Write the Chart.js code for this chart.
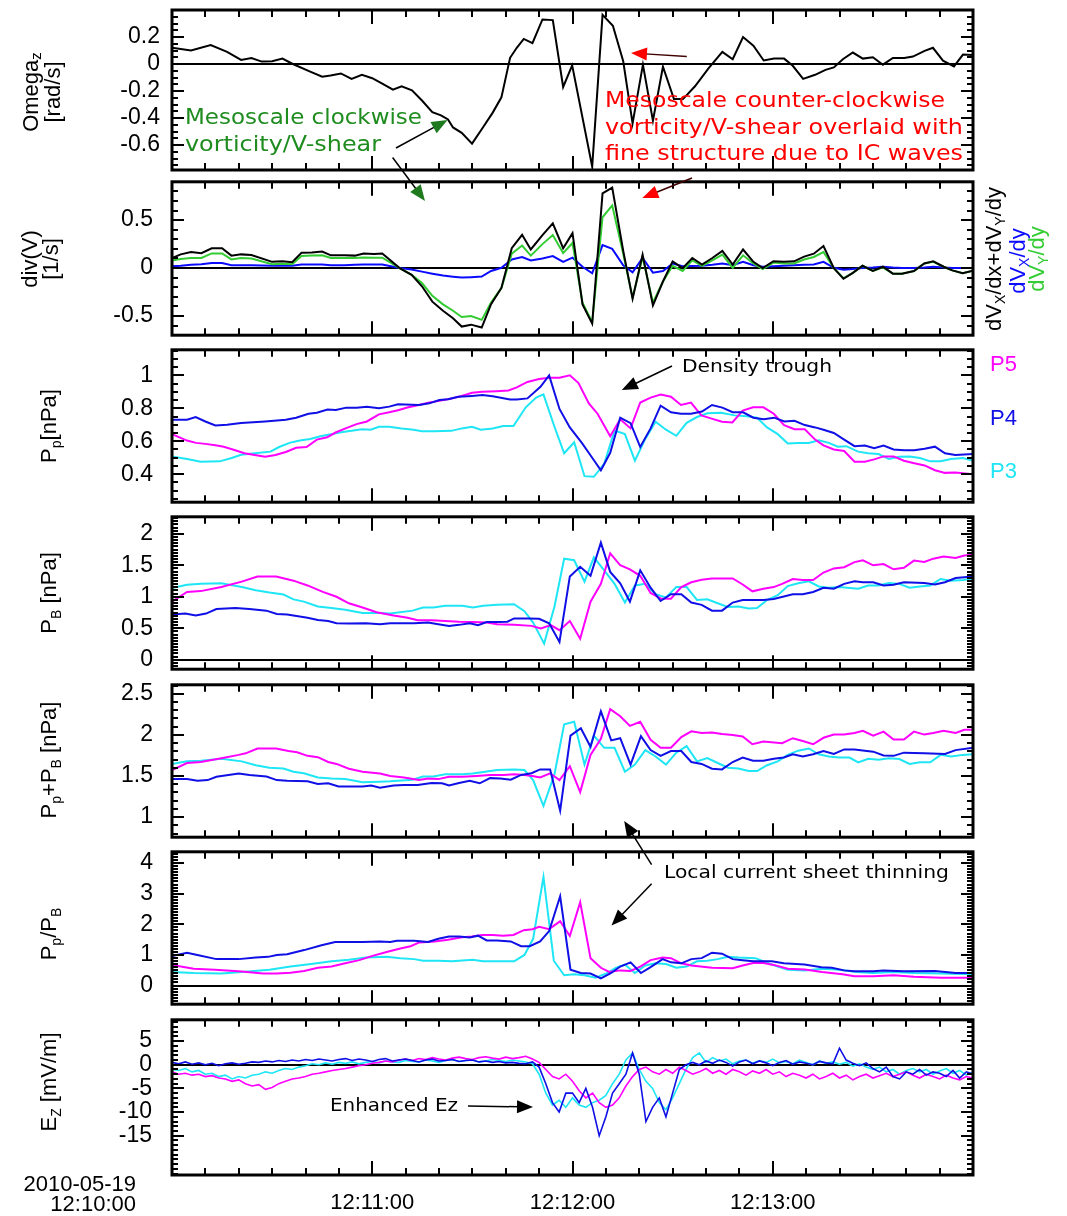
<!DOCTYPE html>
<html>
<head>
<meta charset="utf-8">
<script src="https://cdn.jsdelivr.net/npm/chart.js@4.4.0/dist/chart.umd.min.js"></script>
<style>
  html, body { margin: 0; padding: 0; background: #fff; }
  #stack { position: relative; width: 1067px; height: 1216px; overflow: hidden; }
  #notes { position: absolute; left: 0; top: 0; pointer-events: none; }
  .ax { font-family: 'Liberation Sans', Arial, sans-serif; font-size: 22px; fill: #000; }
  .ann { font-family: 'DejaVu Sans', Verdana, sans-serif; }
</style>
</head>
<body>
<div id="stack">
<svg id="notes" width="1067" height="1216" xmlns="http://www.w3.org/2000/svg">
  <!-- y-axis titles -->
  <text class="ax" transform="translate(38,92) rotate(-90)" text-anchor="middle">Omega<tspan font-size="15" dy="3">z</tspan></text>
  <text class="ax" transform="translate(60,92) rotate(-90)" text-anchor="middle">[rad/s]</text>
  <text class="ax" transform="translate(37,259) rotate(-90)" text-anchor="middle">div(V)</text>
  <text class="ax" transform="translate(58,259) rotate(-90)" text-anchor="middle">[1/s]</text>
  <text class="ax" transform="translate(56,426) rotate(-90)" text-anchor="middle">P<tspan font-size="14" dy="5">p</tspan><tspan dy="-5">[nPa]</tspan></text>
  <text class="ax" transform="translate(56,593) rotate(-90)" text-anchor="middle">P<tspan font-size="14" dy="5">B</tspan><tspan dy="-5"> [nPa]</tspan></text>
  <text class="ax" transform="translate(56,760) rotate(-90)" text-anchor="middle">P<tspan font-size="14" dy="5">p</tspan><tspan dy="-5">+P</tspan><tspan font-size="14" dy="5">B</tspan><tspan dy="-5"> [nPa]</tspan></text>
  <text class="ax" transform="translate(56,934) rotate(-90)" text-anchor="middle">P<tspan font-size="14" dy="5">p</tspan><tspan dy="-5">/P</tspan><tspan font-size="14" dy="5">B</tspan></text>
  <text class="ax" transform="translate(56,1082) rotate(-90)" text-anchor="middle">E<tspan font-size="14" dy="5">Z</tspan><tspan dy="-5"> [mV/m]</tspan></text>

  <!-- divergence legend -->
  <text class="ax" font-size="21" transform="translate(1001,259) rotate(-90)" text-anchor="middle">dV<tspan font-size="14" dy="4">X</tspan><tspan dy="-4">/dx+dV</tspan><tspan font-size="14" dy="4">Y</tspan><tspan dy="-4">/dy</tspan></text>
  <text class="ax" font-size="21" style="fill:#0a0aff" transform="translate(1025,261) rotate(-90)" text-anchor="middle">dV<tspan font-size="14" dy="4">X</tspan><tspan dy="-4">/dy</tspan></text>
  <text class="ax" font-size="21" style="fill:#33cc33" transform="translate(1044,259) rotate(-90)" text-anchor="middle">dV<tspan font-size="14" dy="4">Y</tspan><tspan dy="-4">/dy</tspan></text>

  <!-- probe legend -->
  <text class="ax" x="990" y="371" style="fill:#ff00ff">P5</text>
  <text class="ax" x="990" y="425" style="fill:#0f0fe6">P4</text>
  <text class="ax" x="990" y="478" style="fill:#1ee6f5">P3</text>

  <!-- date stamp of the time axis origin -->
  <text class="ax" x="136" y="1191" text-anchor="end">2010-05-19</text>
  <text class="ax" x="136" y="1211" text-anchor="end">12:10:00</text>

  <!-- annotations -->
  <text class="ann" x="185" y="124" font-size="21" fill="#1f8c1f" textLength="237" lengthAdjust="spacingAndGlyphs">Mesoscale clockwise</text>
  <text class="ann" x="185" y="151" font-size="21" fill="#1f8c1f" textLength="196" lengthAdjust="spacingAndGlyphs">vorticity/V-shear</text>
  <text class="ann" x="605" y="107" font-size="21" fill="#ff0000" textLength="340" lengthAdjust="spacingAndGlyphs">Mesoscale counter-clockwise</text>
  <text class="ann" x="605" y="134" font-size="21" fill="#ff0000" textLength="358" lengthAdjust="spacingAndGlyphs">vorticity/V-shear overlaid with</text>
  <text class="ann" x="605" y="160" font-size="21" fill="#ff0000" textLength="358" lengthAdjust="spacingAndGlyphs">fine structure due to IC waves</text>
  <text class="ann" x="682" y="372" font-size="18.5" fill="#000" textLength="150" lengthAdjust="spacingAndGlyphs">Density trough</text>
  <text class="ann" x="664" y="878" font-size="18.5" fill="#000" textLength="285" lengthAdjust="spacingAndGlyphs">Local current sheet thinning</text>
  <text class="ann" x="330" y="1111" font-size="18.5" fill="#000" textLength="128" lengthAdjust="spacingAndGlyphs">Enhanced Ez</text>
  <g id="arrows"></g>
</svg>
</div>

<script>
// ---------------- time axis (seconds after 12:10:00) ----------------
const timeTickSecs = [60, 120, 180];
const timeTickLabels = ['12:11:00', '12:12:00', '12:13:00'];

// ---------------- Omega_z ----------------
const omegaT = [0, 5.7, 11.6, 16.5, 20.7, 23.8, 26.9, 30, 33.1, 36.2,
  41.4, 45, 47.5, 50.6, 53.8, 56.9, 60, 63, 66.2, 68.8,
  71.9, 74.9, 78, 80.6, 82.7, 84.2, 86.8, 89.9, 93, 96.1,
  98.7, 101.3, 103.3, 105.4, 108, 111, 114.1, 117.2, 119.9, 125.9,
  129, 132.1, 135.2, 138, 141.1, 144.1, 147.1, 150.4, 153.1, 156.7,
  160.8, 164.9, 168, 171.1, 174.2, 177.3, 180.4, 183.4, 186, 189.1,
  192.7, 195.8, 198.3, 201, 204, 207, 210, 213, 216, 219.4,
  222, 225.5, 228, 231, 234.3, 237, 240];
const omegaZ = [0.12, 0.10, 0.14, 0.09, 0.03, 0.045, 0.018, 0.02, 0.04, 0.0,
  -0.056, -0.094, -0.085, -0.07, -0.11, -0.08, -0.105, -0.145, -0.19, -0.165,
  -0.195, -0.27, -0.356, -0.38, -0.41, -0.47, -0.51, -0.59, -0.476, -0.36,
  -0.247, 0.046, 0.12, 0.186, 0.155, 0.33, 0.325, -0.17, -0.01, -0.76,
  0.364, 0.283, 0.02, -0.44, -0.005, -0.42, -0.02, -0.26, -0.26, -0.165,
  -0.03, 0.09, 0.035, 0.2, 0.135, 0.026, 0.04, 0.04, -0.013, -0.11,
  -0.08, -0.043, -0.025, 0.035, 0.085, 0.04, 0.05, -0.005, 0.045, 0.045,
  0.055, 0.097, 0.12, 0.025, -0.018, 0.07, 0.066];
const omegaTicks = [-0.6, -0.4, -0.2, 0, 0.2];
const omegaTickLabels = ['-0.6', '-0.4', '-0.2', '0', '0.2'];

// ---------------- div(V) ----------------
const divT = [0, 2.6, 5.7, 8.8, 11.9, 15, 17.8, 20.7, 23.8, 30,
  33.1, 36, 38.8, 41.9, 45, 47.6, 51.7, 54.8, 57.4, 60.5,
  63, 68.2, 71.8, 74.9, 78, 81.2, 84.2, 86.8, 89.6, 92.8,
  95.6, 98.7, 101.8, 104.9, 107.5, 111, 114.1, 117.2, 120, 123,
  125.9, 129, 131.9, 135.2, 138, 141, 144.1, 147.1, 150, 153,
  155.9, 158.8, 161.9, 164.9, 168, 171.1, 174.2, 177, 180.2, 183.3,
  186.4, 189.4, 192.3, 195.2, 198.3, 201.2, 204, 206.9, 210, 213,
  216, 218.7, 222.3, 225.4, 228.1, 231.2, 233.8, 236.9, 240];
const divSum = [0.105, 0.143, 0.167, 0.156, 0.207, 0.207, 0.13, 0.143, 0.136, 0.065,
  0.071, 0.061, 0.16, 0.163, 0.173, 0.133, 0.133, 0.13, 0.153, 0.146,
  0.153, 0.0, -0.071, -0.19, -0.35, -0.445, -0.524, -0.61, -0.59, -0.62,
  -0.377, -0.207, 0.207, 0.347, 0.194, 0.344, 0.466, 0.207, 0.364, -0.378,
  -0.58, 0.78, 0.84, 0.18, -0.32, 0.14, -0.39, -0.14, 0.07, 0.0,
  0.105, 0.037, 0.105, 0.18, 0.037, 0.194, 0.065, 0.0, 0.071, 0.065,
  0.071, 0.12, 0.15, 0.23, 0.0, -0.112, -0.05, 0.024, -0.03, 0.014,
  -0.058, -0.058, -0.03, 0.048, 0.071, 0.014, -0.024, -0.054, -0.027];
const divVy = [0.08, 0.095, 0.105, 0.105, 0.153, 0.153, 0.09, 0.105, 0.1, 0.04,
  0.045, 0.04, 0.126, 0.13, 0.133, 0.105, 0.105, 0.105, 0.11, 0.109,
  0.109, 0.0, -0.07, -0.156, -0.29, -0.378, -0.445, -0.51, -0.5, -0.54,
  -0.36, -0.207, 0.15, 0.235, 0.13, 0.25, 0.344, 0.156, 0.262, -0.36,
  -0.565, 0.53, 0.653, 0.15, -0.31, 0.116, -0.36, -0.14, 0.024, -0.03,
  0.08, 0.024, 0.08, 0.14, 0.003, 0.133, 0.048, -0.01, 0.058, 0.048,
  0.048, 0.09, 0.116, 0.167, 0.0, -0.105, -0.05, 0.024, -0.03, 0.007,
  -0.058, -0.058, -0.03, 0.048, 0.065, 0.014, -0.024, -0.054, -0.027];
const divVx = [0.02, 0.025, 0.034, 0.04, 0.054, 0.054, 0.03, 0.03, 0.03, 0.024,
  0.024, 0.024, 0.037, 0.037, 0.037, 0.03, 0.03, 0.035, 0.037, 0.037,
  0.037, 0.0, -0.015, -0.037, -0.058, -0.078, -0.09, -0.099, -0.095, -0.088,
  -0.03, 0.003, 0.09, 0.116, 0.08, 0.1, 0.126, 0.065, 0.109, 0.014,
  -0.054, 0.24, 0.2, 0.03, -0.044, 0.105, -0.048, -0.03, 0.048, 0.02,
  0.022, 0.024, 0.035, 0.048, 0.03, 0.065, 0.03, 0.014, 0.02, 0.024,
  0.03, 0.035, 0.037, 0.065, 0.003, -0.017, -0.01, 0.0, 0.005, 0.014,
  0.005, 0.0, 0.0, 0.005, 0.014, 0.005, 0.0, 0.0, 0.0];
const divTicks = [-0.5, 0, 0.5];
const divTickLabels = ['-0.5', '0', '0.5'];

// ---------------- P_p (plasma pressure) ----------------
const ppT5 = [0, 4.5, 7.2, 10, 13, 15.5, 18.7, 21.7, 24.8, 27.9,
  31, 34.1, 37.2, 40.3, 43.4, 46.5, 49, 52.2, 55.3, 58.4,
  62, 65.1, 67.7, 70.8, 74, 77.1, 80.1, 83.7, 86.8, 89.9,
  93, 97.2, 100.8, 103.3, 106.5, 110, 113, 116.1, 119.2, 121.8,
  124.9, 127.5, 131.3, 134.3, 137.4, 140.3, 143.4, 146.4, 149.5, 152.5,
  155.5, 158.6, 161.7, 164.8, 167.9, 171, 174.1, 177.2, 180.3, 183.4,
  186.5, 189.6, 192.7, 195.2, 198.3, 201.4, 204.5, 207.6, 210.4, 213.2,
  216.2, 219.3, 222.4, 225.5, 228.6, 231.6, 234.7, 240];
const ppP5 = [0.643, 0.604, 0.59, 0.584, 0.575, 0.567, 0.547, 0.527, 0.516, 0.506,
  0.516, 0.535, 0.56, 0.565, 0.61, 0.624, 0.653, 0.68, 0.704, 0.72,
  0.763, 0.776, 0.788, 0.806, 0.82, 0.835, 0.845, 0.86, 0.875, 0.894,
  0.9, 0.904, 0.908, 0.927, 0.96, 0.978, 0.986, 0.986, 1.0, 0.953,
  0.829, 0.767, 0.63, 0.733, 0.678, 0.835, 0.865, 0.884, 0.87, 0.82,
  0.835, 0.757, 0.737, 0.718, 0.714, 0.786, 0.806, 0.806, 0.767, 0.698,
  0.673, 0.673, 0.61, 0.575, 0.55, 0.541, 0.476, 0.476, 0.49, 0.508,
  0.508, 0.482, 0.467, 0.453, 0.424, 0.408, 0.41, 0.4];
const ppT4 = [0, 4.5, 7.1, 10, 13, 16.5, 20.7, 27.9, 34.1, 37.2,
  40.9, 43.4, 46.6, 49.1, 52.2, 55.3, 58.4, 62, 65.1, 67.7,
  74, 77.1, 80.1, 82.7, 85.8, 89.9, 93, 96.1, 101.3, 103.3,
  106.5, 110.4, 113, 116.1, 119.2, 122.8, 125.9, 128.5, 131.3, 134.3,
  137.4, 140.3, 143.4, 146.4, 149.5, 152.5, 155.5, 158.8, 161.8, 164.9,
  168, 171.1, 174.2, 177.3, 180.4, 183.5, 186.5, 189.6, 192.7, 195.2,
  198.3, 201.4, 204.5, 207.6, 210.4, 213.2, 216.2, 219.3, 222.4, 225.5,
  228.6, 231.6, 234.7, 240];
const ppP4 = [0.731, 0.731, 0.747, 0.72, 0.696, 0.70, 0.71, 0.72, 0.73, 0.743,
  0.767, 0.773, 0.792, 0.79, 0.804, 0.804, 0.81, 0.80, 0.81, 0.825,
  0.82, 0.83, 0.85, 0.855, 0.87, 0.875, 0.88, 0.873, 0.853, 0.853,
  0.86, 0.93, 1.0, 0.796, 0.684, 0.59, 0.50, 0.424, 0.53, 0.743,
  0.71, 0.565, 0.678, 0.816, 0.776, 0.767, 0.767, 0.78, 0.82, 0.804,
  0.776, 0.776, 0.743, 0.733, 0.743, 0.72, 0.724, 0.698, 0.684, 0.67,
  0.65, 0.61, 0.57, 0.574, 0.557, 0.574, 0.55, 0.545, 0.545, 0.555,
  0.567, 0.527, 0.516, 0.522];
const ppT3 = [0, 4.5, 8.6, 14.3, 17.9, 20.7, 24.8, 29.5, 32.1, 35.2,
  38.3, 41.4, 44.5, 47.6, 50.7, 53.8, 56.9, 59.5, 62, 65.1,
  68.8, 72.4, 74.9, 78.6, 83.7, 86.8, 89.9, 92.5, 96.1, 99.2,
  102.3, 106, 109.1, 111.3, 114.6, 117.5, 120.5, 123.6, 126.4, 129.5,
  132.6, 135.7, 138.7, 141.8, 144.9, 148, 151.1, 154.2, 157.3, 160.4,
  164.5, 168.6, 172.2, 175.3, 178.3, 181.5, 184.5, 187.6, 190.8, 193.8,
  196.8, 199.5, 202, 205.6, 208.6, 211.7, 214.8, 217.9, 221, 224.1,
  227.2, 230.3, 233.4, 237, 240];
const ppP3 = [0.508, 0.492, 0.476, 0.478, 0.498, 0.518, 0.527, 0.537, 0.565, 0.59,
  0.604, 0.614, 0.63, 0.643, 0.655, 0.663, 0.673, 0.67, 0.688, 0.688,
  0.678, 0.67, 0.66, 0.66, 0.663, 0.678, 0.688, 0.67, 0.678, 0.692,
  0.692, 0.806, 0.865, 0.884, 0.688, 0.527, 0.594, 0.388, 0.384, 0.463,
  0.665, 0.643, 0.482, 0.614, 0.718, 0.67, 0.633, 0.712, 0.747, 0.77,
  0.773, 0.757, 0.751, 0.743, 0.684, 0.643, 0.586, 0.59, 0.59, 0.606,
  0.59, 0.567, 0.57, 0.537, 0.527, 0.522, 0.492, 0.506, 0.508, 0.498,
  0.478, 0.478, 0.492, 0.498, 0.482];
const ppTicks = [0.4, 0.6, 0.8, 1];
const ppTickLabels = ['0.4', '0.6', '0.8', '1'];

// ---------------- P_B (magnetic pressure) ----------------
const pbT5 = [0, 4.5, 8.6, 14.8, 20.9, 25.6, 31.2, 36.4, 40.6, 45.2,
  49.3, 53, 57.1, 61.3, 66.4, 70.6, 73.6, 77.8, 81.9, 86,
  90.1, 94.3, 97.4, 102.5, 107.7, 110.5, 113.5, 116.1, 119.2, 122.3,
  125.4, 128.5, 131.3, 134.3, 137.2, 140.3, 143.4, 146.4, 149.5, 152.6,
  155.6, 158.7, 161.8, 168, 171, 173.9, 177.2, 180.3, 182.8, 186,
  189, 192.1, 195.2, 198.3, 201.4, 204.5, 207, 210.1, 213.2, 216.2,
  219.3, 222.3, 225.4, 228.1, 231.2, 234.8, 237.4, 240];
const pbP5 = [0.923, 1.077, 1.09, 1.154, 1.24, 1.323, 1.323, 1.256, 1.18, 1.077,
  1.0, 0.897, 0.83, 0.754, 0.703, 0.667, 0.626, 0.626, 0.615, 0.605,
  0.6, 0.59, 0.564, 0.554, 0.538, 0.497, 0.55, 0.47, 0.615, 0.333,
  0.923, 1.205, 1.69, 1.5, 1.436, 1.333, 1.06, 0.974, 0.97, 1.154,
  1.23, 1.27, 1.29, 1.29, 1.195, 1.087, 1.128, 1.154, 1.205, 1.282,
  1.267, 1.267, 1.385, 1.45, 1.47, 1.55, 1.58, 1.5, 1.52, 1.436,
  1.46, 1.574, 1.554, 1.605, 1.64, 1.615, 1.656, 1.667];
const pbT4 = [0, 4, 7.1, 10.2, 13.3, 19, 23.2, 28.3, 31.4, 34.5,
  40.6, 43.7, 46.8, 49.3, 53, 58.1, 62.3, 65.4, 72.6, 76.7,
  79.8, 83, 86, 89.2, 91.7, 94.3, 97.4, 100.5, 102.5, 106.7,
  110, 113, 116.1, 119.2, 122.3, 125.4, 128.5, 131.3, 134.3, 137.2,
  140.3, 143.4, 146.4, 149.5, 152.6, 155.6, 158.7, 161.8, 164.8, 168,
  171, 177.2, 180.3, 186, 189, 192.1, 195.2, 198.3, 201.4, 204.5,
  207, 210.1, 213.2, 216.2, 219.3, 225.4, 228.6, 231.6, 234.8, 240];
const pbP4 = [0.718, 0.733, 0.703, 0.733, 0.805, 0.82, 0.805, 0.78, 0.728, 0.718,
  0.667, 0.63, 0.615, 0.58, 0.574, 0.58, 0.564, 0.58, 0.58, 0.59,
  0.564, 0.538, 0.554, 0.58, 0.55, 0.6, 0.6, 0.605, 0.656, 0.656,
  0.651, 0.58, 0.282, 1.323, 1.477, 1.333, 1.86, 1.395, 1.215, 0.923,
  1.42, 1.144, 0.933, 1.04, 1.04, 0.908, 0.872, 0.78, 0.78, 0.908,
  0.949, 0.949, 0.964, 1.04, 1.04, 1.077, 1.144, 1.128, 1.205, 1.246,
  1.23, 1.23, 1.18, 1.19, 1.23, 1.22, 1.195, 1.23, 1.297, 1.323];
const pbT3 = [0, 4.5, 8.6, 14.8, 20.9, 25.1, 29.2, 33.4, 36.4, 39.5,
  43.7, 47.8, 51.9, 57.1, 62.3, 65.4, 72.1, 75.2, 78.3, 81.9,
  87, 90.1, 93.3, 97.4, 102.5, 105.6, 108.2, 111.5, 114.6, 117.5,
  120.5, 123.6, 126.4, 129.5, 132.6, 135.7, 138.7, 141.8, 144.9, 148,
  151.1, 154.2, 157.3, 160.4, 163.5, 166.6, 169.7, 172.8, 175.3, 178.3,
  181.5, 184.5, 187.6, 190.8, 193.8, 196.8, 199.9, 205.6, 208.6, 211.7,
  214.8, 217.9, 221, 224.1, 227.2, 230.3, 233.4, 237, 240];
const pbP3 = [1.138, 1.19, 1.205, 1.215, 1.154, 1.103, 1.067, 1.036, 0.959, 0.923,
  0.846, 0.82, 0.795, 0.744, 0.744, 0.733, 0.78, 0.83, 0.83, 0.856,
  0.856, 0.83, 0.856, 0.872, 0.882, 0.77, 0.59, 0.256, 0.846, 1.605,
  1.58, 1.24, 1.626, 1.42, 1.205, 0.908, 1.18, 1.205, 1.04, 0.99,
  1.154, 1.154, 0.949, 0.959, 0.897, 0.836, 0.846, 0.815, 0.82, 0.949,
  1.026, 1.17, 1.215, 1.246, 1.164, 1.144, 1.154, 1.128, 1.18, 1.18,
  1.22, 1.205, 1.144, 1.164, 1.18, 1.282, 1.256, 1.267, 1.292];
const pbTicks = [0, 0.5, 1, 1.5, 2];
const pbTickLabels = ['0', '0.5', '1', '1.5', '2'];

// ---------------- P_p + P_B (total pressure) ----------------
const ptT5 = [0, 4.5, 8.6, 14.8, 20, 22.1, 25.6, 31.2, 34.9, 37.5,
  40.6, 43.7, 46.8, 49.3, 53, 57.1, 62.3, 65.4, 69.5, 74,
  76.7, 79.8, 83, 87, 91.2, 95.3, 99.4, 102.5, 105.6, 108,
  110.3, 113.3, 116.1, 119.2, 122.3, 125.4, 128.5, 131.3, 134.3, 137.2,
  140.3, 143.4, 146.4, 149.5, 152.6, 155.6, 158.7, 161.8, 164.8, 168,
  171, 173.9, 177.2, 182.8, 186, 189, 192.1, 195.2, 198.3, 201.4,
  204.5, 207, 210.1, 213.2, 216.2, 219.3, 222.3, 225.4, 228.1, 231.2,
  234.8, 237.4, 240];
const ptP5 = [1.572, 1.658, 1.67, 1.717, 1.757, 1.776, 1.835, 1.835, 1.804, 1.788,
  1.745, 1.729, 1.67, 1.647, 1.588, 1.552, 1.529, 1.501, 1.482, 1.45,
  1.47, 1.462, 1.49, 1.49, 1.501, 1.513, 1.513, 1.521, 1.513, 1.5,
  1.482, 1.533, 1.45, 1.619, 1.305, 1.757, 1.953, 2.314, 2.228, 2.11,
  2.16, 1.94, 1.843, 1.843, 1.973, 2.043, 2.024, 2.03, 2.012, 2.0,
  1.98, 1.886, 1.92, 1.9, 1.96, 1.925, 1.886, 1.965, 2.004, 2.004,
  2.024, 2.05, 1.992, 2.04, 1.945, 1.945, 2.04, 2.004, 2.024, 2.05,
  2.024, 2.063, 2.063];
const ptT4 = [0, 4.5, 7.6, 10.7, 13.3, 20, 23.2, 28.3, 31.4, 34.5,
  40.6, 43.7, 46.8, 49.9, 57.1, 59.7, 62.3, 66.4, 69.5, 73.6,
  77.8, 80.9, 83, 86, 89.2, 92.2, 95.3, 98.4, 101.5, 104.6,
  107.7, 110.3, 113.3, 116.3, 119.4, 122.5, 125.4, 128.5, 131.6, 134.3,
  137.4, 140.5, 143.4, 146.4, 149.5, 152.6, 155.6, 158.7, 161.8, 164.8,
  168, 171, 174.1, 177.2, 180.3, 183.3, 186, 189, 192.1, 195.2,
  198.3, 201.4, 204.5, 207.6, 210.1, 213.2, 216.2, 219.3, 225.4, 231.6,
  234.8, 240];
const ptP4 = [1.462, 1.462, 1.443, 1.45, 1.49, 1.529, 1.513, 1.494, 1.45, 1.443,
  1.435, 1.403, 1.411, 1.372, 1.372, 1.384, 1.356, 1.384, 1.391, 1.391,
  1.415, 1.411, 1.384, 1.415, 1.443, 1.411, 1.474, 1.47, 1.454, 1.513,
  1.533, 1.58, 1.58, 1.077, 1.992, 2.082, 1.855, 2.287, 1.933, 1.96,
  1.639, 1.984, 1.815, 1.745, 1.804, 1.804, 1.67, 1.647, 1.588, 1.58,
  1.67, 1.725, 1.686, 1.686, 1.71, 1.725, 1.764, 1.737, 1.764, 1.804,
  1.768, 1.823, 1.823, 1.808, 1.796, 1.749, 1.745, 1.784, 1.776, 1.768,
  1.815, 1.843];
const ptT3 = [0, 4.5, 8.6, 14.8, 20.9, 25.1, 29.2, 33.4, 36.4, 39.5,
  43.7, 47.8, 51.9, 57.1, 62.3, 65.4, 72.1, 75.2, 78.3, 81.9,
  87, 90.1, 93.3, 97.4, 102.5, 105.6, 108.2, 111.3, 114.6, 117.5,
  120.5, 123.6, 126.4, 129.5, 132.6, 135.7, 138.7, 141.8, 144.9, 148,
  151.1, 154.2, 157.3, 160.4, 163.5, 166.6, 169.7, 172.8, 175.3, 178.3,
  181.5, 184.5, 187.6, 190.8, 193.8, 196.8, 199.9, 203, 205.6, 208.6,
  211.7, 214.8, 217.9, 221, 224.1, 227.2, 230.3, 233.4, 237, 240];
const ptP3 = [1.647, 1.678, 1.686, 1.71, 1.678, 1.631, 1.6, 1.592, 1.552, 1.533,
  1.482, 1.47, 1.462, 1.423, 1.431, 1.435, 1.454, 1.494, 1.494, 1.521,
  1.521, 1.529, 1.549, 1.572, 1.58, 1.572, 1.45, 1.136, 1.521, 2.13,
  2.16, 1.639, 1.992, 1.843, 1.843, 1.552, 1.639, 1.815, 1.737, 1.639,
  1.784, 1.863, 1.678, 1.717, 1.658, 1.6, 1.592, 1.56, 1.56, 1.631,
  1.678, 1.757, 1.808, 1.835, 1.764, 1.737, 1.725, 1.725, 1.666, 1.71,
  1.698, 1.717, 1.706, 1.647, 1.666, 1.666, 1.757, 1.737, 1.757, 1.764];
const ptTicks = [1, 1.5, 2, 2.5];
const ptTickLabels = ['1', '1.5', '2', '2.5'];

// ---------------- P_p / P_B (plasma beta) ----------------
const btT4 = [0, 4.5, 7.6, 13.3, 20, 25.1, 28.8, 31.4, 34.5, 39.6,
  44.8, 48.9, 52, 57.1, 62.3, 65.4, 67.4, 72.6, 76.7, 79.8,
  83, 86, 89.2, 91.7, 94.3, 97.4, 101.5, 104.6, 107.2, 110.3,
  113, 116.3, 119.4, 122.5, 125.4, 128.5, 131.6, 134.3, 137.4, 140.5,
  143.4, 147, 149.5, 152.6, 155.6, 158.7, 161.8, 164.8, 168, 171,
  174.1, 179.7, 183.3, 189.5, 194.6, 197.7, 201.4, 204.5, 210.1, 213.2,
  219.3, 228.6, 234.8, 240];
const btP4 = [0.968, 1.074, 1.0, 0.863, 0.863, 0.916, 0.937, 1.0, 1.02, 1.158,
  1.316, 1.42, 1.42, 1.42, 1.44, 1.42, 1.463, 1.463, 1.42, 1.526,
  1.6, 1.6, 1.568, 1.63, 1.474, 1.474, 1.44, 1.284, 1.284, 1.44,
  1.78, 2.916, 0.516, 0.41, 0.39, 0.23, 0.41, 0.62, 0.758, 0.41,
  0.6, 0.863, 0.758, 0.726, 0.863, 0.895, 1.074, 1.042, 0.863, 0.83,
  0.79, 0.79, 0.726, 0.684, 0.6, 0.58, 0.495, 0.463, 0.463, 0.495,
  0.463, 0.474, 0.41, 0.41];
const btT5 = [0, 6.5, 12.8, 20, 27.3, 31.4, 35.5, 39.6, 43.7, 47.8,
  51.9, 56.1, 60.1, 64.3, 68.4, 71.5, 74.1, 78.7, 82.7, 86.9,
  89.9, 93, 96.1, 99.2, 102.3, 105.4, 108, 110, 113, 116.3,
  119.2, 122.3, 125.4, 128.5, 131, 134.3, 137.4, 140.3, 143.4, 147,
  149.5, 152.6, 155.6, 161.8, 168, 171, 174.1, 177.2, 180.3, 184.5,
  189.6, 194.8, 200.9, 204.5, 210.1, 216.2, 222.3, 230.5, 240];
const btP5 = [0.674, 0.547, 0.516, 0.463, 0.39, 0.39, 0.42, 0.474, 0.58, 0.62,
  0.726, 0.83, 0.968, 1.095, 1.21, 1.284, 1.41, 1.44, 1.495, 1.58,
  1.6, 1.653, 1.653, 1.63, 1.653, 1.81, 1.842, 1.916, 1.842, 2.105,
  1.62, 2.726, 0.895, 0.58, 0.442, 0.495, 0.474, 0.62, 0.83, 0.916,
  0.895, 0.726, 0.653, 0.58, 0.568, 0.653, 0.737, 0.737, 0.674, 0.547,
  0.526, 0.442, 0.368, 0.305, 0.305, 0.337, 0.284, 0.253, 0.253];
const btT3 = [0, 6.5, 14.8, 20.9, 29.2, 35.5, 41.7, 47.8, 53, 58.1,
  64.3, 68.4, 72.6, 75.2, 79.8, 83.9, 90.1, 93.2, 102.5, 105.6,
  108.2, 111.3, 114.4, 117.5, 120.5, 123.6, 126.9, 130, 133.1, 135.7,
  138.7, 141.8, 144.9, 148, 151.1, 154.2, 157.3, 160.4, 163.5, 166.6,
  169.7, 174.8, 179.2, 184.5, 189.6, 194.8, 199.9, 205, 210.1, 216.2,
  222.3, 230.5, 240];
const btP3 = [0.442, 0.41, 0.39, 0.442, 0.516, 0.62, 0.705, 0.79, 0.842, 0.916,
  0.937, 0.895, 0.863, 0.81, 0.81, 0.79, 0.842, 0.79, 0.79, 1.0,
  1.526, 3.55, 0.81, 0.337, 0.368, 0.337, 0.253, 0.39, 0.58, 0.684,
  0.41, 0.653, 0.726, 0.705, 0.58, 0.62, 0.79, 0.81, 0.863, 0.937,
  0.916, 0.895, 0.705, 0.516, 0.495, 0.547, 0.516, 0.442, 0.41, 0.442,
  0.41, 0.39, 0.368];
const btTicks = [0, 1, 2, 3, 4];
const btTickLabels = ['0', '1', '2', '3', '4'];

// ---------------- E_z (2 s samples from 12:10:00) ----------------
const EZ_STEP = 2;
const ezP4 = [0.5, 0.2, 0.6, 0.1, 0.4, 0.0, 0.3, -0.2, 0.2, 0.4, 0.1,
  0.3, 0.6, 0.5, 0.8, 0.6, 0.9, 0.7, 1.0, 0.8, 1.1,
  0.9, 1.2, 1.0, 0.8, 1.1, 1.3, 0.9, 1.2, 1.0, 0.7, 1.1, 1.3, 0.8, 1.0, 1.2,
  0.9, 0.6, 1.0, 1.2, 0.8, 0.9, 1.1, 0.7, 0.9, 1.0, 0.6, 0.8, 0.5, 0.7, 0.4,
  0.5, 0.3, 0.2, 0.6, -0.5, -4, -8, -10, -6,
  -6, -8, -5, -9, -15, -11, -6, -4, -2, 2.5, -2, -12, -9, -7, -11, -6, -1, 0, 0.5, 0, 0.8,
  0.3, 1.0, 0.5, -0.3, 0.6, 1.0, 0.2, 0.8, 0.4, -0.2, 0.5, 0.9, 0.1, 0.6, 0.3, 0.0, 0.7, 0.4, 0.2,
  3.5, 1.0, 0.3, -0.2, 0.4, -0.8, -1.5, -0.5, -2.5, -3.0, -1.5, -2.0, -1.0, -2.2, -1.5, -1.8, -2.5, -1.2, -2.8, -1.5, -2.0];
const ezP5 = [-1.5, -2.0, -1.8, -2.2, -2.0, -2.5,
  -2.3, -2.8, -3.0, -3.5, -3.2, -4.0, -4.5, -4.2, -5.2, -4.8,
  -4.0, -3.5, -3.0, -2.8, -2.5, -2.0, -1.8, -1.5, -1.2, -1.0, -0.8, -0.5, -0.2, 0.0, 0.3,
  0.5, 0.8, 0.6, 1.0, 1.2, 0.9, 1.3, 1.1, 1.5, 1.2, 1.0, 1.4, 1.6, 1.3, 1.1, 1.5, 1.7, 1.4, 1.2, 1.6, 1.3, 1.5, 1.8,
  1.2, 0.5, -1.0, -2.5, -3.0, -2.0, -3.5, -5.5, -7.0, -6.0, -8.0, -9.0, -8.5, -7.0, -4.5, -2.5, -1.0,
  -0.5, -1.5, -2.0, -1.0, -1.8, -0.5, -1.2, -2.0, -1.5, -0.8, -1.8, -1.2, -2.0, -1.0, -1.5, -2.2, -1.3, -1.8, -1.0, -2.0,
  -1.5, -2.5, -1.8, -2.2, -2.8, -2.0, -3.0, -2.5, -1.8, -2.8, -2.2, -3.2, -2.5, -2.0, -2.8, -2.3, -1.8, -2.5, -2.0, -1.5,
  -2.2, -2.8, -2.0, -2.5, -3.0, -2.2, -2.8, -3.2, -2.5, -2.8];
const ezP3 = [-1.0, -1.2, -0.8, -1.5, -1.2, -2.0, -1.8, -2.5, -2.2, -3.0, -2.5,
  -2.8, -2.2, -2.0, -1.5, -1.8, -1.2, -0.8, -1.0, -0.5, -0.2,
  0.2, 0.0, 0.4, 0.1, 0.5, 0.3, 0.6, 0.2, 0.5, 0.7, 0.4, 0.8, 0.6, 0.5, 0.9, 0.7, 0.6,
  1.0, 0.8, 0.5, 0.9, 1.1, 0.7, 0.9, 1.0, 0.6, 0.8, 1.1, 0.9, 0.7, 1.0, 0.8, 0.6,
  0.2, -2.0, -6.0, -8.5, -7.5, -9.0, -7.0, -8.5, -9.0, -8.0, -7.5, -6.5, -4.0, -2.0, 1.0, 2.5,
  -1.0, -3.5, -5.0, -8.0, -9.5, -7.0, -4.0, -1.0, 1.5, 2.5, 0.5,
  1.5, 0.8, 1.2, 0.2, 0.8, 1.0, 0.3, 0.9, 0.5, 1.2, 0.4, 0.7, 0.2, 1.0, 0.5, 0.0, 0.8, 0.3, 0.6, 0.1,
  0.5, -0.3, 0.2, -0.5, -1.0, -0.5, -1.5, -1.0, -2.0, -1.2, -0.8, -1.5, -1.0, -2.0, -1.3, -0.8, -1.8, -1.2, -2.2, -1.5];
const ezT = ezP4.map((_, i) => i * EZ_STEP);
const ezTicks = [-15, -10, -5, 0, 5];
const ezTickLabels = ['-15', '-10', '-5', '0', '5'];

// ---------------- drawing ----------------
const C_BLACK = '#000000', C_GREEN = '#33cc33', C_BLUE2 = '#0a0aff';
const C_P5 = '#ff00ff', C_P4 = '#0f0fe6', C_P3 = '#1ee6f5';

Chart.defaults.font.family = "'Liberation Sans', Arial, Helvetica, sans-serif";
Chart.defaults.color = '#000';

const W = 1067, PLOT_L = 172, PLOT_R = 973, EDGE = 20, YAXIS_W = 150, TIME_AXIS_H = 42;

// boxed frame with inward ticks on all four sides, plus an optional zero line
const frameTicks = {
  id: 'frameTicks',
  beforeDatasetsDraw(chart, args, o) {
    if (!o.zero) return;
    const { ctx, chartArea: a, scales: { y } } = chart;
    const py = Math.round(y.getPixelForValue(0));
    ctx.save();
    ctx.strokeStyle = '#000'; ctx.lineWidth = 2;
    ctx.beginPath(); ctx.moveTo(a.left, py); ctx.lineTo(a.right, py); ctx.stroke();
    ctx.restore();
  },
  afterDatasetsDraw(chart, args, o) {
    const { ctx, chartArea: a, scales: { x, y } } = chart;
    ctx.save();
    ctx.strokeStyle = '#000'; ctx.lineWidth = 2;
    const seg = (x1, y1, x2, y2) => { ctx.beginPath(); ctx.moveTo(x1, y1); ctx.lineTo(x2, y2); ctx.stroke(); };
    for (let t = 0; t <= 240; t += 10) {
      const px = Math.round(x.getPixelForValue(t));
      const len = t % 60 === 0 ? 14 : 7;
      seg(px, a.top, px, a.top + len);
      seg(px, a.bottom, px, a.bottom - len);
    }
    const step = o.minor;
    const k0 = Math.ceil(y.min / step - 1e-9), k1 = Math.floor(y.max / step + 1e-9);
    for (let k = k0; k <= k1; k++) {
      const v = k * step;
      const py = Math.round(y.getPixelForValue(v));
      const major = o.major.some(m => Math.abs(m - v) < step / 4);
      const len = major ? 12 : 6;
      seg(a.left, py, a.left + len, py);
      seg(a.right, py, a.right - len, py);
    }
    ctx.lineWidth = 3;
    ctx.strokeRect(a.left, a.top, a.right - a.left, a.bottom - a.top);
    ctx.restore();
  }
};

function series(t, v, color) { return { t, v, color }; }

function makePanel(p) {
  const c = document.createElement('canvas');
  const below = p.timeAxis ? TIME_AXIS_H : EDGE;
  const h = (p.bottom - p.top) + EDGE + below;
  c.width = W; c.height = h;
  c.style.cssText = `position:absolute;left:0;top:${p.top - EDGE}px;width:${W}px;height:${h}px;`;
  document.getElementById('stack').insertBefore(c, document.getElementById('notes'));

  const xScale = { type: 'linear', min: 0, max: 240, display: !!p.timeAxis };
  if (p.timeAxis) {
    Object.assign(xScale, {
      grid: { display: false }, border: { display: false },
      afterBuildTicks: s => { s.ticks = timeTickSecs.map(v => ({ value: v })); },
      afterFit: s => { s.height = TIME_AXIS_H; },
      ticks: { autoSkip: false, maxRotation: 0, padding: 7, font: { size: 22 }, color: '#000',
               callback: (v, i) => timeTickLabels[i] }
    });
  }

  new Chart(c, {
    type: 'line',
    data: {
      datasets: p.series.map(s => ({
        data: s.t.map((x, i) => ({ x, y: s.v[i] })),
        borderColor: s.color, borderWidth: p.lw || 2,
        pointRadius: 0, tension: 0, fill: false
      }))
    },
    options: {
      responsive: false, animation: false, devicePixelRatio: 1, events: [],
      layout: { padding: { left: PLOT_L - YAXIS_W, right: W - PLOT_R, top: EDGE, bottom: p.timeAxis ? 0 : EDGE } },
      plugins: {
        legend: { display: false }, tooltip: { enabled: false },
        frameTicks: { minor: p.minor, major: p.ticks, zero: p.zero }
      },
      scales: {
        x: xScale,
        y: {
          type: 'linear', min: p.yMin, max: p.yMax,
          grid: { display: false }, border: { display: false },
          afterBuildTicks: s => { s.ticks = p.ticks.map(v => ({ value: v })); },
          afterFit: s => { s.width = YAXIS_W; },
          ticks: { autoSkip: false, padding: p.labelPad, font: { size: 23 }, color: '#000',
                   callback: (v, i) => p.labels[i] }
        }
      }
    },
    plugins: [frameTicks]
  });
}

makePanel({ top: 10, bottom: 170, yMin: -0.785, yMax: 0.40, ticks: omegaTicks, labels: omegaTickLabels,
  minor: 0.05, zero: true, labelPad: 4,
  series: [series(omegaT, omegaZ, C_BLACK)] });

makePanel({ top: 177, bottom: 340, yMin: -0.70, yMax: 0.90, ticks: divTicks, labels: divTickLabels,
  minor: 0.1, zero: true, labelPad: 11,
  series: [series(divT, divSum, C_BLACK), series(divT, divVy, C_GREEN), series(divT, divVx, C_BLUE2)] });

makePanel({ top: 345, bottom: 507, yMin: 0.23, yMax: 1.155, ticks: ppTicks, labels: ppTickLabels,
  minor: 0.05, zero: false, labelPad: 11,
  series: [series(ppT4, ppP4, C_P4), series(ppT5, ppP5, C_P5), series(ppT3, ppP3, C_P3)] });

makePanel({ top: 512, bottom: 674, yMin: -0.15, yMax: 2.27, ticks: pbTicks, labels: pbTickLabels,
  minor: 0.05, zero: true, labelPad: 11,
  series: [series(pbT4, pbP4, C_P4), series(pbT5, pbP5, C_P5), series(pbT3, pbP3, C_P3)] });

makePanel({ top: 680, bottom: 842, yMin: 0.755, yMax: 2.61, ticks: ptTicks, labels: ptTickLabels,
  minor: 0.1, zero: false, labelPad: 11,
  series: [series(ptT4, ptP4, C_P4), series(ptT5, ptP5, C_P5), series(ptT3, ptP3, C_P3)] });

makePanel({ top: 847, bottom: 1009, yMin: -0.61, yMax: 4.37, ticks: btTicks, labels: btTickLabels,
  minor: 0.1, zero: true, labelPad: 11,
  series: [series(btT4, btP4, C_P4), series(btT5, btP5, C_P5), series(btT3, btP3, C_P3)] });

makePanel({ top: 1014, bottom: 1175, yMin: -23.3, yMax: 9.5, ticks: ezTicks, labels: ezTickLabels,
  minor: 1, zero: true, labelPad: 12, lw: 1.6, timeAxis: true,
  series: [series(ezT, ezP4, C_P4), series(ezT, ezP5, C_P5), series(ezT, ezP3, C_P3)] });

// ---------------- annotation arrows ----------------
(function drawArrows() {
  const NS = 'http://www.w3.org/2000/svg';
  const g = document.getElementById('arrows');
  function arrow(x1, y1, x2, y2, lineColor, headColor) {
    const dx = x2 - x1, dy = y2 - y1, L = Math.hypot(dx, dy);
    const ux = dx / L, uy = dy / L, hl = 16, hw = 6.5;
    const bx = x2 - ux * hl, by = y2 - uy * hl;
    const ln = document.createElementNS(NS, 'line');
    ln.setAttribute('x1', x1); ln.setAttribute('y1', y1);
    ln.setAttribute('x2', bx + ux * 2); ln.setAttribute('y2', by + uy * 2);
    ln.setAttribute('stroke', lineColor); ln.setAttribute('stroke-width', 1.5);
    g.appendChild(ln);
    const hd = document.createElementNS(NS, 'polygon');
    hd.setAttribute('points', `${x2},${y2} ${bx - uy * hw},${by + ux * hw} ${bx + uy * hw},${by - ux * hw}`);
    hd.setAttribute('fill', headColor);
    g.appendChild(hd);
  }
  arrow(396, 148, 447.6, 120, '#000', '#1f7a1f');
  arrow(392.6, 157.5, 425, 201, '#000', '#1f7a1f');
  arrow(686.8, 56.5, 631, 53, '#400000', '#ff0000');
  arrow(692, 178, 642.3, 198, '#400000', '#ff0000');
  arrow(672, 366, 621.8, 390, '#000', '#000');
  arrow(651.6, 883.8, 611.5, 925.6, '#000', '#000');
  arrow(651.6, 864.7, 624.2, 821, '#000', '#000');
  arrow(468, 1106, 533, 1107, '#000', '#000');
})();
</script>
</body>
</html>
